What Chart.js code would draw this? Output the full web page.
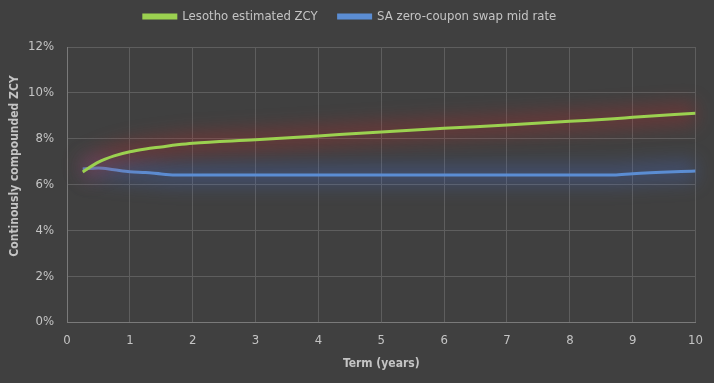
<!DOCTYPE html>
<html>
<head>
<meta charset="utf-8">
<script src="https://cdn.jsdelivr.net/npm/chart.js@4"></script>
<style>
  html, body { margin: 0; padding: 0; background: #404040; }
  #wrap { width: 714px; height: 383px; }
</style>
</head>
<body>
<div id="wrap"><canvas id="zcy-chart" width="714" height="383"></canvas></div>
<script>
const terms = [0.25, 0.5, 0.75, 1, 1.25, 1.5, 1.75, 2, 3, 4, 5, 6, 7, 8, 8.7, 9, 10];
const lesothoZcy = [6.55, 6.98, 7.25, 7.43, 7.55, 7.64, 7.73, 7.80, 7.95, 8.12, 8.29, 8.45, 8.60, 8.76, 8.87, 8.93, 9.11];
const saSwapMid = [6.68, 6.72, 6.64, 6.56, 6.52, 6.46, 6.41, 6.41, 6.41, 6.41, 6.41, 6.41, 6.41, 6.41, 6.41, 6.47, 6.59];
const seriesNames = ['Lesotho estimated ZCY', 'SA zero-coupon swap mid rate'];
const yTitle = 'Continously compounded ZCY';
const glowColors = ['rgba(190, 40, 40, 0.3)', 'rgba(70, 110, 210, 0.3)'];

const fontFamily = "'DejaVu Sans Condensed', 'Liberation Sans', sans-serif";
const textColor = '#c4c4c4';
const gridColor = '#5e5e5e';

function toPoints(vals) {
    return terms.map((t, i) => ({ x: t, y: vals[i] }));
}

// soft coloured halo drawn under each line
const glowPlugin = {
    id: 'glow',
    beforeDatasetDraw(chart, args) {
        const line = args.meta.dataset;
        const ctx = chart.ctx;
        const oldWidth = line.options.borderWidth;
        const oldColor = line.options.borderColor;
        ctx.save();
        ctx.filter = 'blur(9px)';
        line.options.borderWidth = 22;
        line.options.borderColor = glowColors[args.index];
        line.draw(ctx, chart.chartArea);
        line.options.borderWidth = oldWidth;
        line.options.borderColor = oldColor;
        ctx.restore();
    }
};

const layoutPlugin = {
    id: 'tweaks',
    beforeDraw(chart) {
        const ctx = chart.ctx;
        ctx.save();
        ctx.fillStyle = '#404040';
        ctx.fillRect(0, 0, chart.width, chart.height);
        ctx.restore();
    },
    beforeLayout(chart) {
        // fixed legend band height, legend row nudged up
        const lg = chart.legend;
        if (lg && !lg._patched) {
            const fit = lg.fit;
            lg.fit = function() {
                fit.call(this);
                this.height = 47;
            };
            const draw = lg.draw;
            lg.draw = function() {
                this.ctx.save();
                this.ctx.translate(0, -11);
                draw.call(this);
                this.ctx.restore();
            };
            lg._patched = true;
        }
    },
    afterDraw(chart) {
        // y axis title sits a bit above the middle in the original
        const ctx = chart.ctx;
        ctx.save();
        ctx.translate(15, 166);
        ctx.rotate(-Math.PI / 2);
        ctx.fillStyle = textColor;
        ctx.font = 'bold 12px ' + fontFamily;
        ctx.textAlign = 'center';
        ctx.textBaseline = 'middle';
        ctx.fillText(yTitle, 0, 0);
        ctx.restore();
    }
};

new Chart(document.getElementById('zcy-chart'), {
    type: 'line',
    data: {
        datasets: [{
            label: seriesNames[0],
            data: toPoints(lesothoZcy),
            borderColor: '#9bd150',
            backgroundColor: '#9bd150',
            borderWidth: 3,
            pointRadius: 0,
            cubicInterpolationMode: 'monotone'
        }, {
            label: seriesNames[1],
            data: toPoints(saSwapMid),
            borderColor: '#5b8dd3',
            backgroundColor: '#5b8dd3',
            borderWidth: 3,
            pointRadius: 0,
            cubicInterpolationMode: 'monotone'
        }]
    },
    options: {
        responsive: false,
        animation: false,
        layout: { padding: { left: 3, right: 17, top: 0, bottom: 8 } },
        plugins: {
            legend: {
                position: 'top',
                labels: {
                    color: textColor,
                    font: { family: fontFamily, size: 13 },
                    boxWidth: 32,
                    boxHeight: 3,
                    padding: 21
                }
            },
            tooltip: { enabled: false }
        },
        scales: {
            x: {
                type: 'linear',
                min: 0,
                max: 10,
                afterFit: function(scale) {
                    scale.height = 53;
                },
                ticks: {
                    stepSize: 1,
                    color: textColor,
                    font: { family: fontFamily, size: 13 },
                    padding: 11
                },
                grid: { color: gridColor, drawTicks: false },
                border: { color: '#7a7a7a' },
                title: {
                    display: true,
                    text: 'Term (years)',
                    color: textColor,
                    font: { family: fontFamily, size: 12, weight: 'bold' }
                }
            },
            y: {
                min: 0,
                max: 12,
                afterFit: function(scale) {
                    scale.width = 64;
                },
                ticks: {
                    stepSize: 2,
                    color: textColor,
                    font: { family: fontFamily, size: 13 },
                    padding: 13,
                    callback: function(value) {
                        return value + '%';
                    }
                },
                grid: { color: gridColor, drawTicks: false },
                border: { color: '#7a7a7a' }
            }
        }
    },
    plugins: [layoutPlugin, glowPlugin]
});
</script>
</body>
</html>
